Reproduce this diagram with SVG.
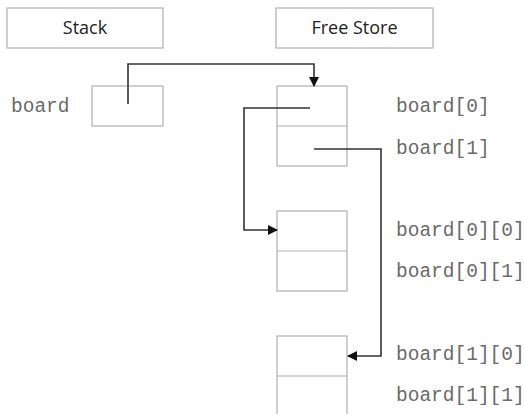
<svg xmlns="http://www.w3.org/2000/svg" width="524" height="414" viewBox="0 0 524 414">
<defs>
<style>
.box{fill:#fff;stroke:#b0b0b0;stroke-width:1.2}
.hdr{font-family:"Open Sans","Liberation Sans",sans-serif;font-size:18px;fill:#222;text-anchor:middle}
.lbl{font-family:"Liberation Mono","Courier New",monospace;font-size:19.5px;fill:#6a6a6a;font-weight:300}
.conn{fill:none;stroke:#333;stroke-width:1.6}
</style>
<marker id="ah" viewBox="0 0 10 10" refX="9" refY="5" markerWidth="10" markerHeight="10" markerUnits="userSpaceOnUse" orient="auto">
<path d="M0,0 L10,5 L0,10 z" fill="#111"/>
</marker>
</defs>
<rect width="524" height="414" fill="#fff"/>
<g id="stack-hdr"><rect class="box" x="7" y="8" width="156" height="40"/><text class="hdr" x="85" y="34">Stack</text></g>
<g id="free-hdr"><rect class="box" x="276" y="8" width="157" height="40"/><text class="hdr" x="354.5" y="34">Free Store</text></g>
<g id="board"><text class="lbl" x="11" y="112">board</text><rect class="box" x="92" y="86" width="71" height="40"/></g>
<g id="arr0"><rect class="box" x="277" y="86" width="70" height="80"/><line class="box" x1="277" y1="126" x2="347" y2="126"/>
<text class="lbl" x="396" y="112">board[0]</text><text class="lbl" x="396" y="154">board[1]</text></g>
<g id="arr00"><rect class="box" x="277" y="211" width="70" height="80"/><line class="box" x1="277" y1="251" x2="347" y2="251"/>
<text class="lbl" x="396" y="236">board[0][0]</text><text class="lbl" x="396" y="277">board[0][1]</text></g>
<g id="arr10"><rect class="box" x="277" y="336" width="70" height="90"/><line class="box" x1="277" y1="376" x2="347" y2="376"/>
<text class="lbl" x="396" y="360">board[1][0]</text><text class="lbl" x="396" y="401">board[1][1]</text></g>
<g id="connectors">
<path class="conn" d="M128,104 V64 H314 V86" marker-end="url(#ah)"/>
<path class="conn" d="M310,108 H244 V230 H277" marker-end="url(#ah)"/>
<path class="conn" d="M314,149 H381 V356 H348" marker-end="url(#ah)"/>
</g>
</svg>
